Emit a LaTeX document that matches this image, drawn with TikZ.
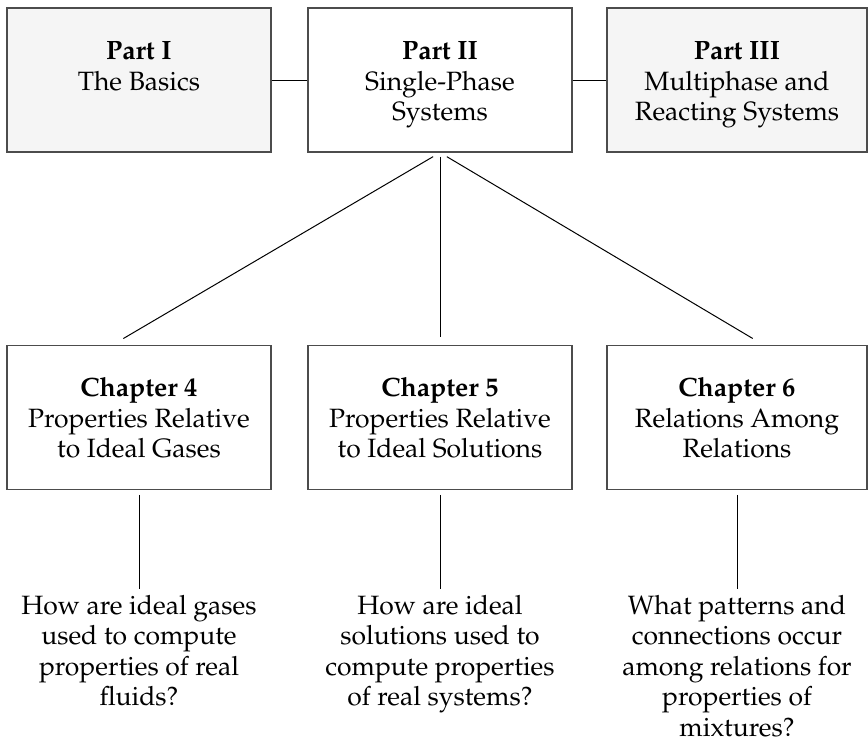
\documentclass[tikz,border=0pt]{standalone}
\usepackage[T1]{fontenc}
\usepackage{mathpazo}
\usepackage{tikz}
\usetikzlibrary{positioning}

\begin{document}
\begin{tikzpicture}[
                x=1pt, y=-1pt,
                font=\fontsize{26.5}{30.5}\selectfont,
                box/.style={rectangle, draw=black!70, line width=1.2pt, minimum width=264pt, minimum height=144pt, align=center, inner sep=0pt, text height=87pt, text depth=6pt},
                shaded/.style={fill=black!4},
                question/.style={align=center, inner sep=0pt},
                link/.style={draw=black, line width=1pt}
            ]
                \useasboundingbox (0,0) rectangle (868,745);

                % Part nodes
                \node[box, shaded] (p1) at (139,80) {\textbf{Part I}\\The Basics\\\strut};
                \node[box] (p2) at (440,80) {\textbf{Part II}\\Single-Phase\\Systems};
                \node[box, shaded, minimum width=260pt] (p3) at (737,80) {\textbf{Part III}\\Multiphase and\\Reacting Systems};

                % Chapter nodes
                \node[box, below=192pt of p1] (c4) {\textbf{Chapter 4}\\Properties Relative\\to Ideal Gases};
                \node[box, below=192pt of p2] (c5) {\textbf{Chapter 5}\\Properties Relative\\to Ideal Solutions};
                \node[box, minimum width=260pt, below=192pt of p3] (c6) {\textbf{Chapter 6}\\Relations Among\\Relations};

                % Questions
                \node[question, below=105pt of c4] (q4) {How are ideal gases\\used to compute\\properties of real\\fluids?};
                \node[question, below=105pt of c5] (q5) {How are ideal\\solutions used to\\compute properties\\of real systems?};
                \node[question, below=105pt of c6] (q6) {What patterns and\\connections occur\\among relations for\\properties of\\mixtures?};

                % Edges
                \draw[link] (p1) -- (p2);
                \draw[link] (p2) -- (p3);
                \draw[link, shorten <=8pt, shorten >=12pt] (p2.south) -- ([xshift=-26pt]c4.north);
                \draw[link, shorten <=4pt, shorten >=8pt] (p2.south) -- (c5.north);
                \draw[link, shorten <=8pt, shorten >=12pt] (p2.south) -- ([xshift=26pt]c6.north);
                \draw[link, shorten <=5pt, shorten >=6pt] (c4) -- (q4);
                \draw[link, shorten <=5pt, shorten >=6pt] (c5) -- (q5);
                \draw[link, shorten <=5pt, shorten >=6pt] (c6) -- (q6);
            \end{tikzpicture}
\end{document}
